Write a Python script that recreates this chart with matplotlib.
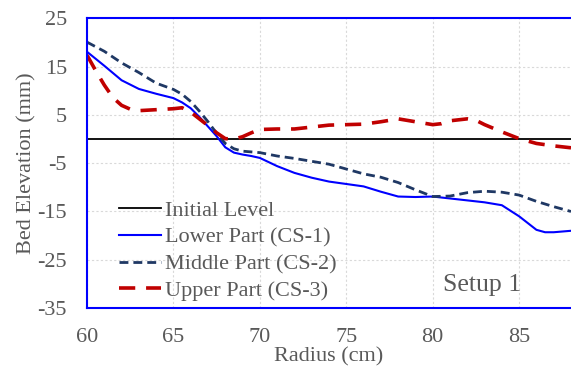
import numpy as np
import matplotlib
matplotlib.use("Agg")
import matplotlib.pyplot as plt

plt.rcParams['font.family'] = ['Liberation Serif', 'DejaVu Serif']
plt.rcParams['axes.unicode_minus'] = False

# radius (cm) and bed elevation (mm)
r_lower = [60, 61, 62, 63, 64, 65, 65.5, 66, 66.5, 67, 67.5, 68, 68.5, 69, 69.5, 70, 71,
           72, 73, 74, 75, 76, 77, 78, 79, 80, 81, 82, 83, 84, 85, 86, 86.5, 87, 88]
z_lower = [18.1, 15.2, 12.2, 10.4, 9.4, 8.5, 7.6, 6.4, 4.6, 2.6, 0.6, -1.7, -2.8, -3.2,
           -3.5, -3.9, -5.6, -7.0, -8.0, -8.8, -9.3, -9.8, -10.9, -11.9, -12.0, -11.9,
           -12.3, -12.7, -13.1, -13.7, -16.0, -18.8, -19.3, -19.3, -19.0]

r_middle = [60, 61, 62, 63, 64, 65, 65.5, 66, 66.5, 67, 67.5, 68, 68.5, 69, 70, 71, 72,
            73, 74, 75, 76, 77, 78, 79, 80, 81, 82, 83, 84, 85, 86, 87, 88]
z_middle = [20.1, 18.2, 15.8, 13.8, 11.6, 10.3, 9.3, 7.8, 5.8, 3.6, 1.2, -0.9, -2.0,
            -2.5, -2.8, -3.5, -4.0, -4.6, -5.2, -6.2, -7.2, -7.9, -9.0, -10.5, -11.9,
            -11.8, -11.1, -10.8, -11.0, -11.6, -12.9, -14.0, -15.0]

r_upper = [60, 60.5, 61, 61.5, 62, 62.5, 63, 64, 65, 65.5, 66, 66.5, 67, 67.5, 68, 68.5,
           69, 69.5, 70, 71, 72, 73, 74, 75, 76, 77, 78, 79, 80, 80.5, 81, 82, 82.5, 83,
           84, 85, 86, 87, 88]
z_upper = [17.4, 14.2, 11.2, 8.6, 7.0, 6.2, 5.9, 6.1, 6.3, 6.5, 5.6, 4.2, 2.8, 1.3, 0.1,
           0.0, 0.5, 1.3, 2.0, 2.1, 2.1, 2.5, 2.9, 3.0, 3.1, 3.6, 4.2, 3.6, 3.0, 3.2, 3.8,
           4.2, 3.9, 3.0, 1.5, 0.1, -0.9, -1.4, -1.8]

r_initial = [60, 88]
z_initial = [0, 0]

grey = '#595959'

fig = plt.figure(figsize=(5.71, 3.67), dpi=100)
ax = fig.add_axes([0.1524, 0.1608, 0.8476, 0.7888])

ax.plot(r_initial, z_initial, color='black', lw=1.3, label='Initial Level')
ax.plot(r_lower, z_lower, color='#0000FF', lw=1.5, label='Lower Part (CS-1)')
ax.plot(r_middle, z_middle, color='#1F3864', lw=2.0, dashes=(3.2, 1.8),
        label='Middle Part (CS-2)')
ax.plot(r_upper, z_upper, color='#C00000', lw=2.6, dashes=(4.5, 3.0),
        label='Upper Part (CS-3)')

ax.set_xlim(60, 88)
ax.set_ylim(-35, 25)
ax.set_xticks([60, 65, 70, 75, 80, 85])
ax.set_yticks([-35, -25, -15, -5, 5, 15, 25])
ax.grid(True, color='#D9D9D9', lw=0.8, ls=(0, (2, 2)))
ax.set_axisbelow(True)

for s in ['left', 'top', 'bottom']:
    ax.spines[s].set_color('#0000FF')
    ax.spines[s].set_linewidth(1.5)
ax.spines['right'].set_visible(False)

ax.tick_params(length=0, labelsize=16, labelcolor=grey, pad=14.5)
ax.set_xlabel('Radius (cm)', fontsize=16, color=grey, labelpad=0)
ax.set_ylabel('Bed Elevation (mm)', fontsize=16, color=grey, labelpad=0.5)

leg = ax.legend(loc='upper left', bbox_to_anchor=(0.066, 0.372), frameon=False,
                fontsize=16, handlelength=1.9, handletextpad=0.18, labelspacing=0.28,
                borderaxespad=0, borderpad=0)
for t in leg.get_texts():
    t.set_color(grey)

ax.text(0.817, 0.079, 'Setup 1', transform=ax.transAxes, fontsize=18.5, color=grey,
        ha='center', va='center')

fig.savefig('out.png', dpi=100)
